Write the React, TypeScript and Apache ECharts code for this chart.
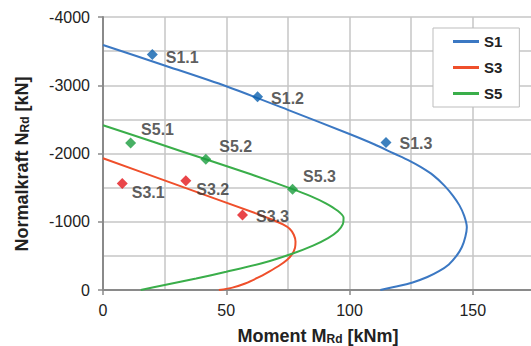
import React, { useEffect, useRef } from "react";
import * as echarts from "echarts";

// Interaction curves N-M for the three cross-sections: [M (kNm), N (kN)]
const s1Curve: [number, number][] = [
  [0, -3590], [25, -3290], [50, -2985], [75, -2640], [100, -2285], [110, -2135],
  [118, -2000], [124, -1900], [129, -1800], [134, -1680], [138.5, -1530],
  [142, -1380], [144.6, -1240], [146.5, -1090], [147.6, -920], [147, -780],
  [145.6, -630], [143.3, -495], [140.3, -375], [136.3, -275], [131.6, -190],
  [125.6, -110], [119, -50], [112.5, 0],
];
const s3Curve: [number, number][] = [
  [0, -1930], [30, -1540], [62, -1123], [68.7, -1030], [73, -960], [75.8, -895],
  [77.4, -810], [78.1, -710], [77.9, -620], [76.8, -530], [74.6, -440], [71.4, -355],
  [67.4, -270], [62.8, -180], [57.7, -95], [52.5, -35], [47, 0],
];
const s5Curve: [number, number][] = [
  [0, -2415], [20, -2175], [41.7, -1915], [60, -1695], [76.9, -1478], [84, -1380],
  [90.4, -1270], [95.2, -1160], [97.6, -1060], [97.3, -965], [95.3, -865],
  [91.3, -760], [85.2, -650], [77, -535], [64.8, -395], [50, -268], [37.8, -168],
  [25, -72], [15.3, 0],
];

// Test results
const s1TestNames = ["S1.1", "S1.2", "S1.3"];
const s1TestValues: [number, number][] = [[20, -3450], [62.7, -2830], [114.8, -2160]];
const s3TestNames = ["S3.1", "S3.2", "S3.3"];
const s3TestValues: [number, number][] = [[7.8, -1560], [33.6, -1600], [56.6, -1100]];
const s5TestNames = ["S5.1", "S5.2", "S5.3"];
const s5TestValues: [number, number][] = [[11.2, -2155], [41.7, -1915], [76.9, -1475]];

const seriesNames = ["S1", "S3", "S5"];

// Placement of the test-point labels next to their markers
const labelOffsets: Record<string, [number, number]> = {
  "S1.1": [3, 3], "S1.2": [3, 2], "S1.3": [3, 1],
  "S3.1": [-1, 9], "S3.2": [0, 9], "S3.3": [3, 2],
  "S5.1": [0, -13], "S5.2": [3, -13], "S5.3": [0, -13],
};

const FONT = "'Liberation Sans', Arial, Helvetica, sans-serif";
const lineColors = ["#3b78c3", "#ef4f2b", "#3aae4a"];
const markerColors = ["#0b60ae", "#e3161c", "#1a9c3d"];

function curveSeries(name: string, data: [number, number][], color: string) {
  return {
    name,
    type: "line",
    data,
    showSymbol: false,
    smooth: 0.25,
    lineStyle: { color, width: 2 },
    itemStyle: { color },
    z: 2,
  };
}

function testSeries(names: string[], values: [number, number][], color: string) {
  return {
    type: "scatter",
    symbol: "diamond",
    symbolSize: 11,
    itemStyle: { color },
    z: 3,
    label: {
      show: true,
      position: "right",
      formatter: "{b}",
      fontSize: 16,
      fontWeight: "bold",
      fontFamily: FONT,
      color: "#333",
    },
    data: names.map((n, i) => ({
      name: n,
      value: values[i],
      label: { offset: labelOffsets[n] },
    })),
  };
}

export default function App() {
  const ref = useRef<HTMLDivElement>(null);

  useEffect(() => {
    if (!ref.current) return;
    const chart = echarts.init(ref.current, undefined, { renderer: "svg" });
    const gridColor = "#c6c6c6";
    const axisColor = "#8a8a8a";
    const subStyle = { fontSize: 12, fontWeight: "bold", fontFamily: FONT, fill: "#222", verticalAlign: "bottom" };
    chart.setOption({
      animation: false,
      backgroundColor: "#fff",
      grid: { left: 103, top: 17, width: 493, height: 273 },
      xAxis: {
        type: "value",
        min: 0,
        max: 200,
        interval: 50,
        position: "bottom",
        axisLine: { show: true, onZero: false, lineStyle: { color: axisColor, width: 2 } },
        axisTick: { show: true, length: 5, lineStyle: { color: axisColor, width: 1.5 } },
        axisLabel: {
          margin: 12,
          fontSize: 16,
          fontFamily: FONT,
          color: "#222",
          formatter: (v: number) => (v >= 200 ? "" : String(v)),
        },
        splitLine: { show: true, lineStyle: { color: gridColor, width: 1.5 } },
        minorTick: { show: false, splitNumber: 2 },
        minorSplitLine: { show: true, lineStyle: { color: gridColor, width: 1.5 } },
      },
      yAxis: {
        type: "value",
        min: -4000,
        max: 0,
        interval: 1000,
        inverse: true,
        axisLine: { show: true, onZero: false, lineStyle: { color: axisColor, width: 2 } },
        axisTick: { show: true, length: 5, lineStyle: { color: axisColor, width: 1.5 } },
        axisLabel: {
          margin: 13,
          fontSize: 16,
          fontFamily: FONT,
          color: "#222",
          formatter: (v: number) => String(v),
        },
        splitLine: { show: true, lineStyle: { color: gridColor, width: 1.5 } },
        minorTick: { show: false, splitNumber: 2 },
        minorSplitLine: { show: true, lineStyle: { color: gridColor, width: 1.5 } },
      },
      legend: {
        data: seriesNames,
        orient: "vertical",
        left: 433,
        top: 28,
        padding: [6, 17, 6, 20],
        itemGap: 11,
        itemWidth: 26,
        itemHeight: 3,
        icon: "rect",
        backgroundColor: "#fff",
        borderColor: "#bdbdbd",
        borderWidth: 1,
        textStyle: { fontSize: 15, fontWeight: "bold", fontFamily: FONT, color: "#222" },
      },
      graphic: [
        {
          type: "text",
          x: 318,
          y: 345,
          z: 10,
          style: {
            text: "Moment M{sub|Rd} [kNm]",
            fontSize: 18,
            fontWeight: "bold",
            fontFamily: FONT,
            fill: "#222",
            align: "center",
            verticalAlign: "bottom",
            rich: { sub: subStyle },
          },
        },
        {
          type: "text",
          x: 22,
          y: 164,
          rotation: Math.PI / 2,
          z: 10,
          style: {
            text: "Normalkraft N{sub|Rd} [kN]",
            fontSize: 18,
            fontWeight: "bold",
            fontFamily: FONT,
            fill: "#222",
            align: "center",
            verticalAlign: "middle",
            rich: { sub: subStyle },
          },
        },
      ],
      series: [
        curveSeries(seriesNames[0], s1Curve, lineColors[0]),
        curveSeries(seriesNames[1], s3Curve, lineColors[1]),
        curveSeries(seriesNames[2], s5Curve, lineColors[2]),
        testSeries(s1TestNames, s1TestValues, markerColors[0]),
        testSeries(s3TestNames, s3TestValues, markerColors[1]),
        testSeries(s5TestNames, s5TestValues, markerColors[2]),
      ],
    });
    return () => chart.dispose();
  }, []);

  return (
    <div style={{ position: "fixed", left: 0, top: 0, width: 531, height: 346, overflow: "hidden", background: "#fff" }}>
      <div ref={ref} style={{ width: 620, height: 346 }} />
    </div>
  );
}
